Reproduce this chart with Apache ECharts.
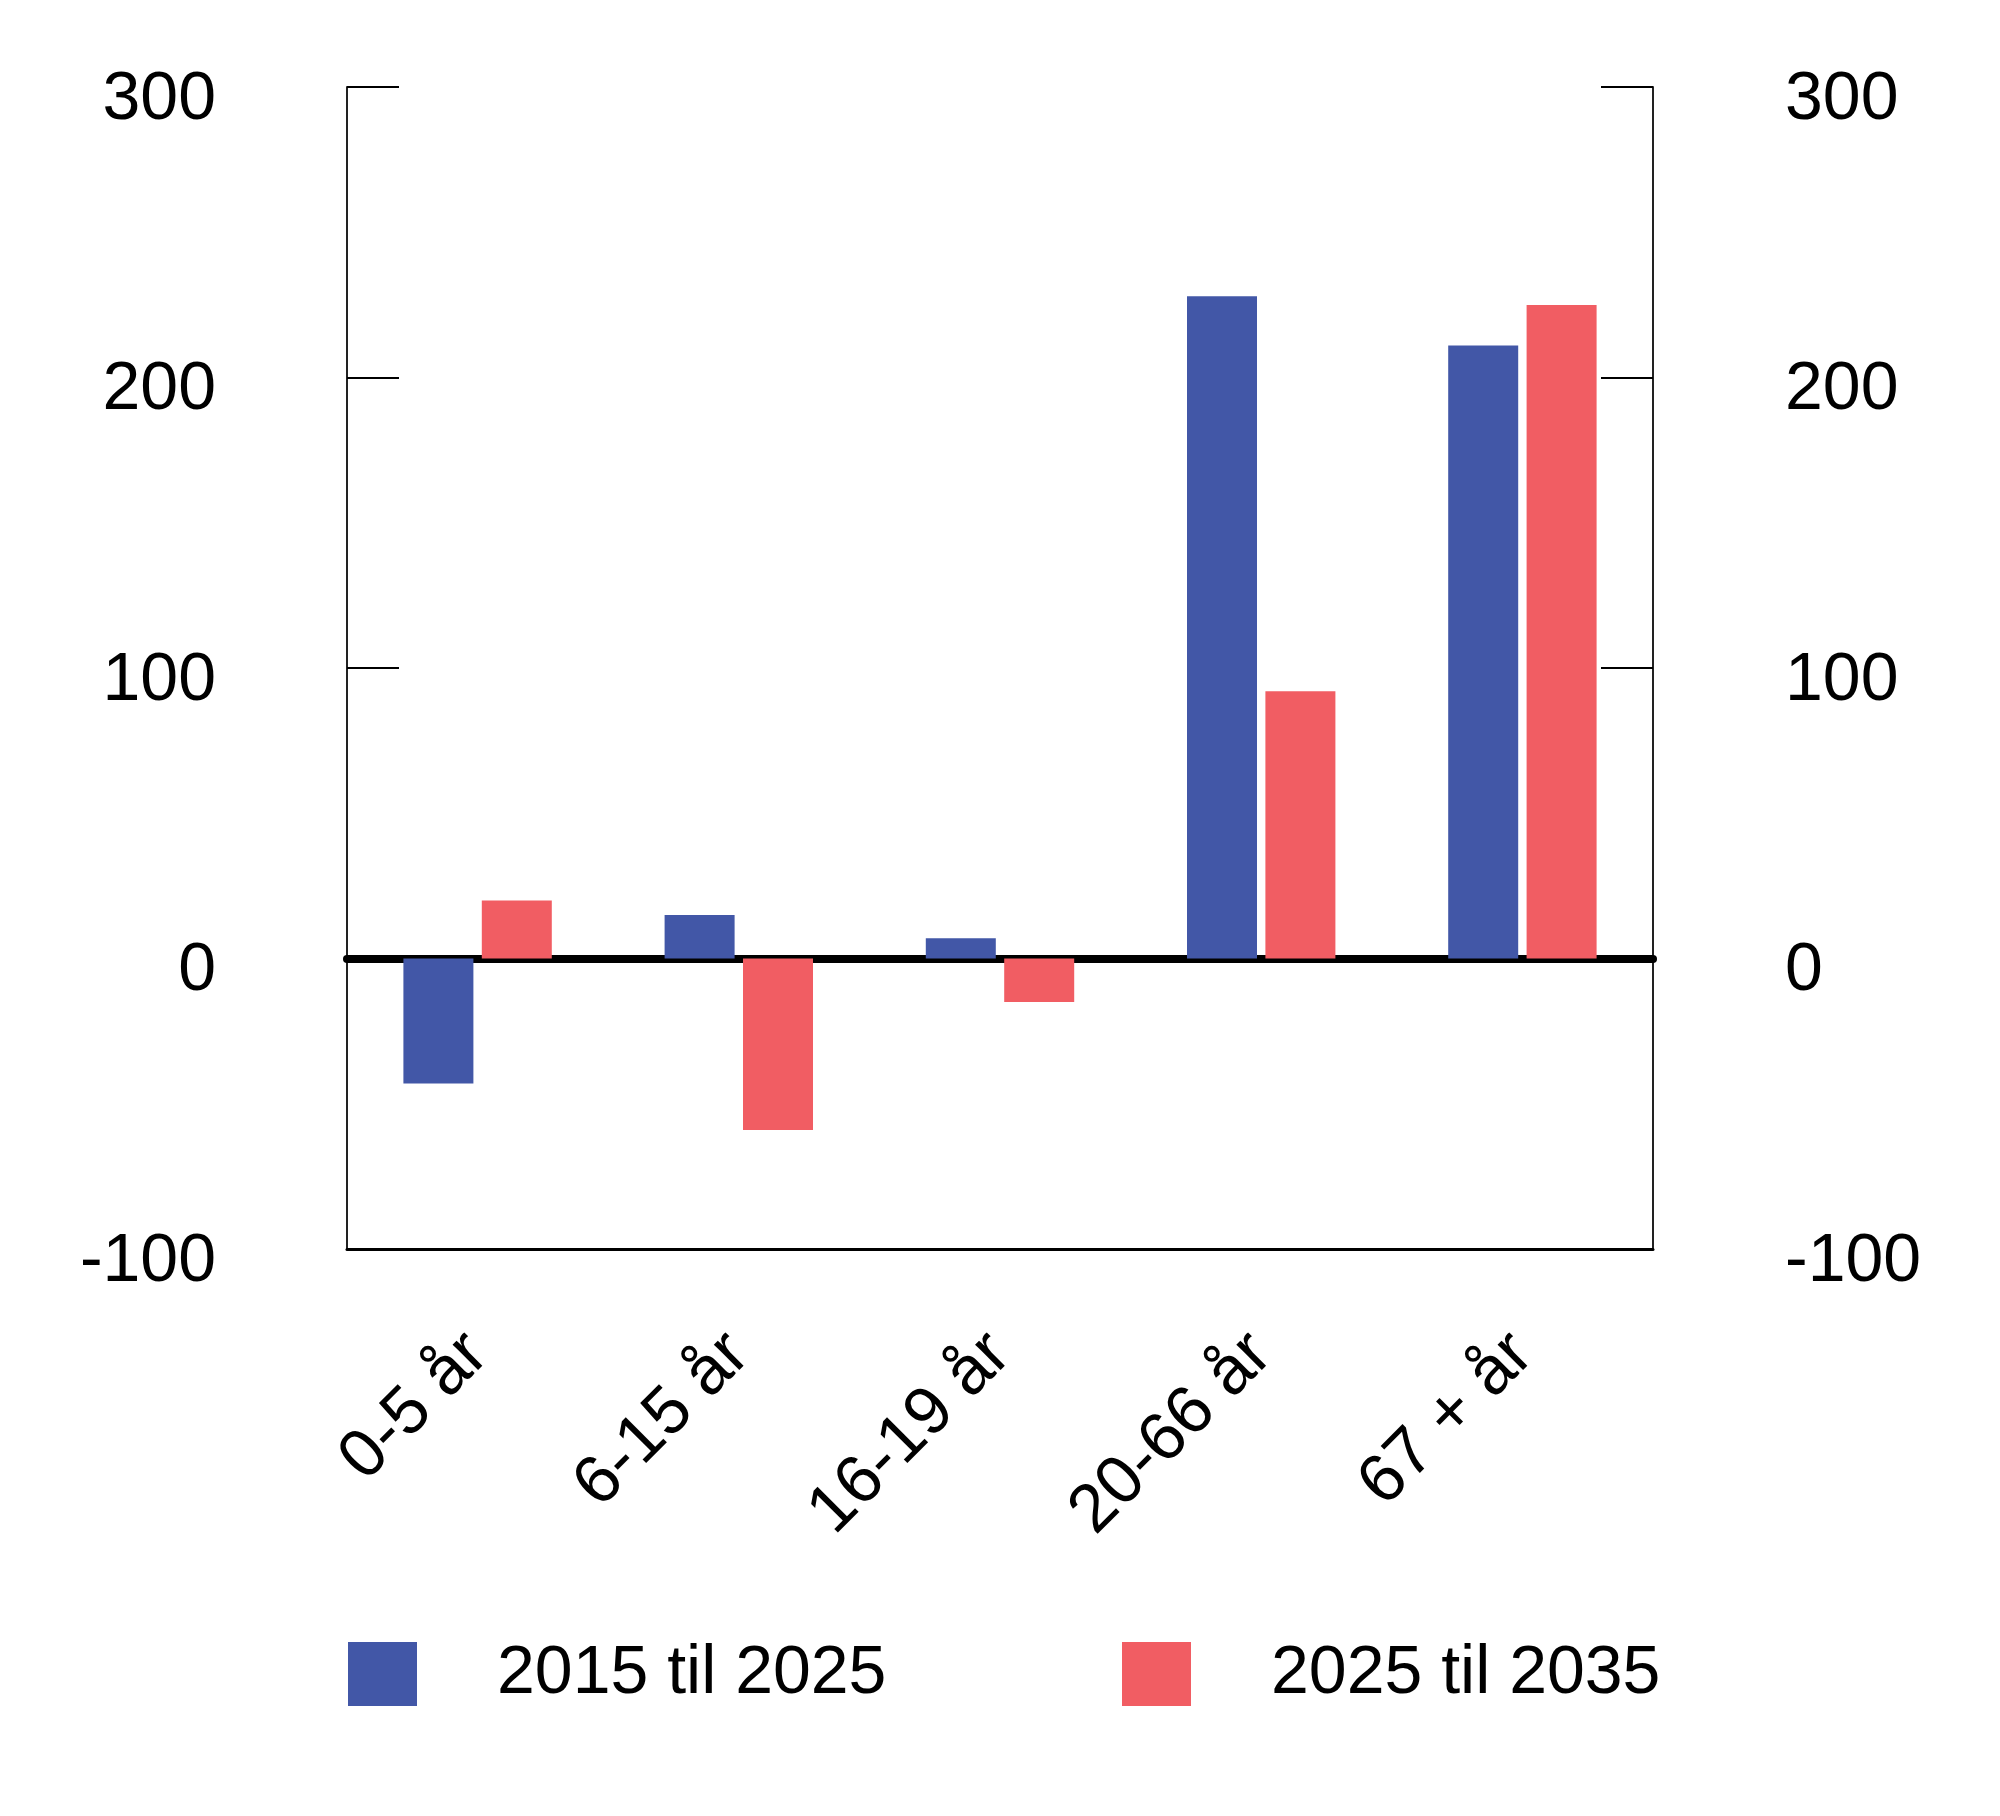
<!DOCTYPE html>
<html>
<head>
<meta charset="utf-8">
<script src="https://cdn.jsdelivr.net/npm/echarts@6/dist/echarts.min.js"></script>
<style>
  html, body { margin: 0; padding: 0; background: #fff; }
  #main { width: 2000px; height: 1816px; }
</style>
</head>
<body>
<div id="main"></div>
<script>
const categories = ["0-5 år", "6-15 år", "16-19 år", "20-66 år", "67 + år"];
const series2015 = [-43, 15, 7, 228, 211];
const series2025 = [20, -59, -15, 92, 225];
const seriesNames = ["2015 til 2025", "2025 til 2035"];
const blueColor = "#4257a7";
const redColor = "#f15d63";

const chart = echarts.init(document.getElementById("main"));

const yAxisBase = {
  type: "value",
  min: -100,
  max: 300,
  interval: 100,
  splitLine: { show: false },
  axisLine: { show: true, lineStyle: { color: "#222", width: 2 } },
  axisTick: { show: true, inside: true, length: 52, lineStyle: { color: "#000", width: 2 } },
};

// labels sit a bit below their tick in the original
const labelStyle = {
  formatter: "{a|{value}}",
  rich: {
    a: {
      color: "#000",
      fontFamily: "Liberation Sans",
      fontSize: 68,
      padding: [26, 0, 0, 0],
    },
  },
};

const legendText = { color: "#000", fontFamily: "Liberation Sans", fontSize: 68, padding: [0, 0, 0, 75] };

const option = {
  animation: false,
  backgroundColor: "#fff",
  grid: { left: 347, right: 347, top: 87, bottom: 567 },
  legend: [
    {
      data: [seriesNames[0]],
      left: 343,
      top: 1635,
      itemWidth: 69,
      itemHeight: 64,
      icon: "rect",
      textStyle: legendText,
    },
    {
      data: [seriesNames[1]],
      left: 1117,
      top: 1635,
      itemWidth: 69,
      itemHeight: 64,
      icon: "rect",
      textStyle: legendText,
    },
  ],
  xAxis: [
    {
      type: "category",
      data: categories,
      position: "bottom",
      axisLine: { onZero: false, lineStyle: { color: "#000", width: 3 } },
      axisTick: { show: false },
      axisLabel: {
        rotate: 45,
        margin: 95,
        color: "#000",
        fontFamily: "Liberation Sans",
        fontSize: 68,
      },
    },
    {
      // zero line
      type: "category",
      data: categories,
      axisLine: { onZero: true, lineStyle: { color: "#000", width: 8 } },
      axisTick: { show: false },
      axisLabel: { show: false },
      z: 0,
    },
  ],
  yAxis: [
    Object.assign({}, yAxisBase, {
      position: "left",
      axisLabel: Object.assign({}, labelStyle, { margin: 131 }),
    }),
    Object.assign({}, yAxisBase, {
      position: "right",
      axisLabel: Object.assign({}, labelStyle, { margin: 132 }),
    }),
  ],
  series: [
    {
      name: seriesNames[0],
      type: "bar",
      data: series2015,
      barWidth: 70,
      barGap: "12%",
      itemStyle: { color: blueColor },
      z: 5,
    },
    {
      name: seriesNames[1],
      type: "bar",
      data: series2025,
      barWidth: 70,
      barGap: "12%",
      itemStyle: { color: redColor },
      z: 5,
    },
  ],
};

chart.setOption(option);
</script>
</body>
</html>
